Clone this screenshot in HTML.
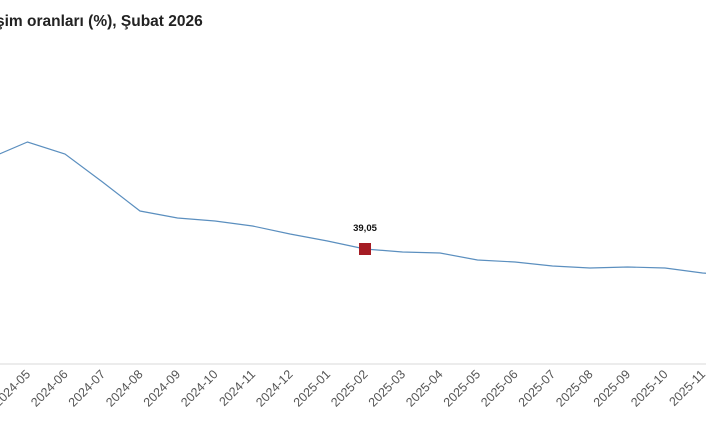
<!DOCTYPE html>
<html><head><style>
body{margin:0;background:#fff;width:706px;height:431px;overflow:hidden;font-family:"Liberation Sans",Arial,sans-serif}
</style></head><body>
<svg width="706" height="431" xmlns="http://www.w3.org/2000/svg" font-family="Liberation Sans, Arial, sans-serif">
<text x="-4" y="26" font-size="15.5" font-weight="bold" fill="#222">şim oranları (%), Şubat 2026</text>
<line x1="0" y1="364" x2="706" y2="364" stroke="#e6e6e6" stroke-width="1.5"/>
<polyline fill="none" stroke="#5b8fbf" stroke-width="1.2" points="-10,158 27.5,142 65,154 102.5,182 140,211 177.5,218 215,221 252.5,226 290,234 327.5,241 365,249 402.5,252 440,253 477.5,260 515,262 552.5,266 590,268 627.5,267 665,268 702.5,273 715,274"/>
<rect x="359" y="243" width="12" height="12" fill="#a51c24"/>
<text x="365" y="231" font-size="9.5" font-weight="bold" text-anchor="middle" fill="#111">39,05</text>
<g font-size="12.5" fill="#555" text-anchor="end">
<text transform="translate(31,375) rotate(-45)">2024-05</text>
<text transform="translate(68.5,375) rotate(-45)">2024-06</text>
<text transform="translate(106,375) rotate(-45)">2024-07</text>
<text transform="translate(143.5,375) rotate(-45)">2024-08</text>
<text transform="translate(181,375) rotate(-45)">2024-09</text>
<text transform="translate(218.5,375) rotate(-45)">2024-10</text>
<text transform="translate(256,375) rotate(-45)">2024-11</text>
<text transform="translate(293.5,375) rotate(-45)">2024-12</text>
<text transform="translate(331,375) rotate(-45)">2025-01</text>
<text transform="translate(368.5,375) rotate(-45)">2025-02</text>
<text transform="translate(406,375) rotate(-45)">2025-03</text>
<text transform="translate(443.5,375) rotate(-45)">2025-04</text>
<text transform="translate(481,375) rotate(-45)">2025-05</text>
<text transform="translate(518.5,375) rotate(-45)">2025-06</text>
<text transform="translate(556,375) rotate(-45)">2025-07</text>
<text transform="translate(593.5,375) rotate(-45)">2025-08</text>
<text transform="translate(631,375) rotate(-45)">2025-09</text>
<text transform="translate(668.5,375) rotate(-45)">2025-10</text>
<text transform="translate(706,375) rotate(-45)">2025-11</text>
</g>
</svg>
</body></html>
